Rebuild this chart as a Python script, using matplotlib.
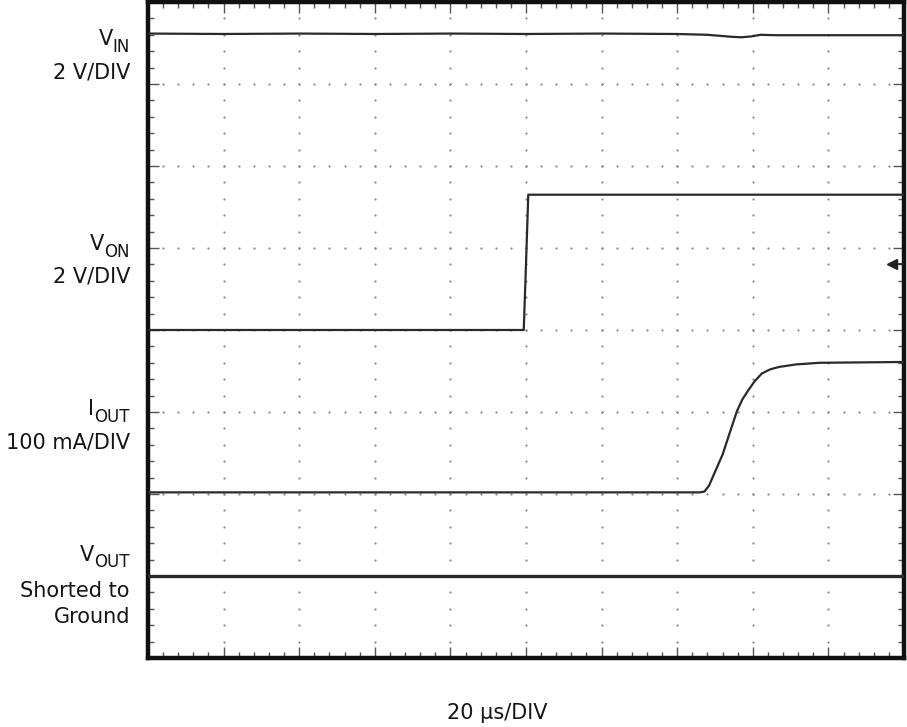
import matplotlib
matplotlib.use("Agg")
import matplotlib.pyplot as plt
import numpy as np

plt.rcParams['font.family'] = ['DejaVu Sans']

# Traces, in scope divisions (x: 0..10 div of 20 us, y: 0..8 div from bottom)
vin_t = [0.0, 1.0, 2.0, 3.0, 4.0, 5.0, 6.0, 7.0, 7.4, 7.73, 7.85, 7.98, 8.1, 8.3, 9.0, 10.0]
vin_v = [7.615, 7.61, 7.615, 7.61, 7.615, 7.61, 7.615, 7.61, 7.60, 7.575, 7.57, 7.58, 7.60, 7.595, 7.595, 7.595]

von_t = [0.0, 4.97, 5.00, 5.03, 10.0]
von_v = [4.00, 4.00, 4.80, 5.65, 5.65]

iout_t = [0.0, 7.30, 7.36, 7.42, 7.50, 7.60, 7.70, 7.79, 7.86, 7.93, 8.02, 8.12,
          8.23, 8.35, 8.57, 8.88, 10.0]
iout_v = [2.02, 2.02, 2.03, 2.10, 2.27, 2.48, 2.76, 3.01, 3.15, 3.25, 3.37, 3.47,
          3.52, 3.55, 3.58, 3.60, 3.61]

vout_t = [0.0, 10.0]
vout_v = [1.00, 1.00]

# labels: (main, subscript, main baseline px, subscript baseline px)
sub_labels = [("V", "IN", 45, 52), ("V", "ON", 250, 257),
              ("I", "OUT", 415, 422), ("V", "OUT", 561, 567)]
plain_labels = [("2 V/DIV", 79), ("2 V/DIV", 283), ("100 mA/DIV", 449),
                ("Shorted to", 597), ("Ground", 623)]
xlabel = "20 \u00b5s/DIV"
n_xdiv, n_ydiv = 10, 8
marker_pos = (9.84, 4.81)

W, H = 907, 727
fig = plt.figure(figsize=(W / 100, H / 100), dpi=100)
left, right, top, bottom = 148, 904, 2, 658
ax = fig.add_axes([left / W, 1 - bottom / H, (right - left) / W, (bottom - top) / H])
ax.set_xlim(0, n_xdiv)
ax.set_ylim(0, n_ydiv)

# dotted graticule: dots at minor positions along each major line
dot_c = '#8a8a8a'
minor_x = np.arange(0, n_xdiv + 0.001, 0.2)
minor_y = np.arange(0, n_ydiv + 0.001, 0.2)
for gy in range(1, n_ydiv):
    ax.plot(minor_x, np.full_like(minor_x, gy), ls='none', marker='o', ms=1.6,
            mec='none', mfc=dot_c, zorder=1)
for gx in range(1, n_xdiv):
    ax.plot(np.full_like(minor_y, gx), minor_y, ls='none', marker='o', ms=1.6,
            mec='none', mfc=dot_c, zorder=1)

ax.set_xticks(np.arange(0, n_xdiv + 1, 1))
ax.set_yticks(np.arange(0, n_ydiv + 1, 1))
ax.set_xticks(minor_x, minor=True)
ax.set_yticks(minor_y, minor=True)
ax.tick_params(which='both', direction='in', top=True, right=True,
               labelbottom=False, labelleft=False, color='#555555', width=1)
ax.tick_params(which='major', length=8)
ax.tick_params(which='minor', length=4)
for s in ax.spines.values():
    s.set_linewidth(3.2)
    s.set_color('#111111')

tc = '#2a2a2a'
ax.plot(vin_t, vin_v, color=tc, lw=1.6, zorder=3)
ax.plot(von_t, von_v, color=tc, lw=1.6, zorder=3)
ax.plot(iout_t, iout_v, color=tc, lw=1.6, zorder=3)
ax.plot(vout_t, vout_v, color=tc, lw=2.4, zorder=3)

# trigger marker
ax.plot([marker_pos[0], n_xdiv], [marker_pos[1], marker_pos[1]], color='#222222', lw=1.2,
        zorder=3, clip_on=False)
ax.plot([marker_pos[0]], [marker_pos[1]], marker='<', ms=7, color='#222222', zorder=4)

txt_c = '#151515'
xr = 130
renderer = fig.canvas.get_renderer()
for main, sub, yb, ysb in sub_labels:
    t_sub = fig.text(xr / W, 1 - ysb / H, sub, ha='right', va='baseline',
                     fontsize=12, color=txt_c)
    ext = t_sub.get_window_extent(renderer)
    fig.text(ext.x0 / W, 1 - yb / H, main, ha='right', va='baseline',
             fontsize=15, color=txt_c)
for txt, yb in plain_labels:
    fig.text(xr / W, 1 - yb / H, txt, ha='right', va='baseline', fontsize=15,
             color=txt_c)

fig.text(497 / W, 1 - 713 / H, xlabel, ha='center', va='center', fontsize=15,
         color=txt_c)

fig.savefig('out.png', dpi=100)
